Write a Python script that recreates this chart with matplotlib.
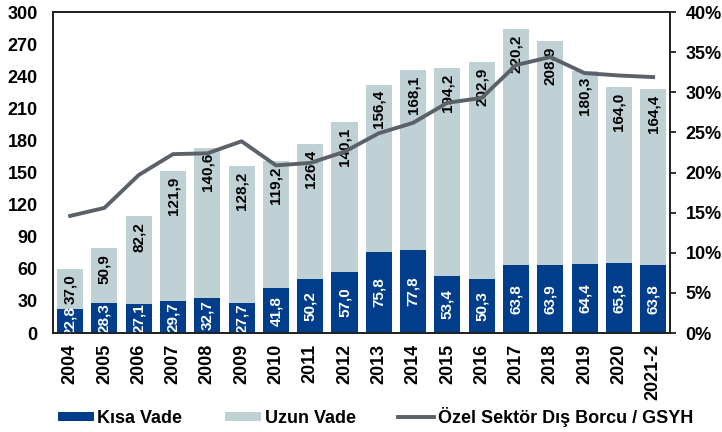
import matplotlib
matplotlib.use("Agg")
import matplotlib.pyplot as plt
import numpy as np

years = ["2004", "2005", "2006", "2007", "2008", "2009", "2010", "2011", "2012",
         "2013", "2014", "2015", "2016", "2017", "2018", "2019", "2020", "2021-2"]
kisa_vade = [22.8, 28.3, 27.1, 29.7, 32.7, 27.7, 41.8, 50.2, 57.0,
             75.8, 77.8, 53.4, 50.3, 63.8, 63.9, 64.4, 65.8, 63.8]
uzun_vade = [37.0, 50.9, 82.2, 121.9, 140.6, 128.2, 119.2, 126.4, 140.1,
             156.4, 168.1, 194.2, 202.9, 220.2, 208.9, 180.3, 164.0, 164.4]
borc_gsyh = [14.6, 15.6, 19.7, 22.3, 22.4, 23.9, 20.9, 21.2, 22.6,
             24.9, 26.2, 28.7, 29.3, 33.4, 34.4, 32.4, 32.1, 31.9]
left_ticks = [0, 30, 60, 90, 120, 150, 180, 210, 240, 270, 300]
right_ticks = [0, 5, 10, 15, 20, 25, 30, 35, 40]
right_labels = ["0%", "5%", "10%", "15%", "20%", "25%", "30%", "35%", "40%"]
legend_labels = ["Kısa Vade", "Uzun Vade", "Özel Sektör Dış Borcu / GSYH"]

plt.rcParams['font.family'] = ['Liberation Sans', 'DejaVu Sans']
plt.rcParams['font.weight'] = 'bold'

dark = "#003D8A"
light = "#C0D1D5"
linec = "#5B6169"

fig = plt.figure(figsize=(7.22, 4.32), dpi=100)
ax = fig.add_axes([0.0734, 0.229, 0.855, 0.743])
x = np.arange(len(years))
w = 0.76
b1 = ax.bar(x, kisa_vade, w, color=dark, label=legend_labels[0], zorder=2)
b2 = ax.bar(x, uzun_vade, w, bottom=kisa_vade, color=light, label=legend_labels[1], zorder=2)

fmt = lambda v: f"{v:.1f}".replace(".", ",")
for xi, k, u in zip(x, kisa_vade, uzun_vade):
    ax.text(xi, k / 2, fmt(k), rotation=90, ha='center', va='center',
            color='white', fontsize=11, fontweight='bold', zorder=4)
    ax.annotate(fmt(u), (xi, k + u), xytext=(0, -4), textcoords='offset points',
                rotation=90, ha='center', va='top', color='black',
                fontsize=11, fontweight='bold', zorder=4)

ax.set_xlim(-0.5, len(years) - 0.5)
ax.set_ylim(0, 300)
ax.set_yticks(left_ticks)
ax.set_yticklabels([str(t) for t in left_ticks], fontsize=13, fontweight='bold')
ax.tick_params(axis='y', length=0, pad=11)
ax.set_xticks(x)
ax.set_xticklabels(years, rotation=90, fontsize=13, fontweight='bold')
ax.tick_params(axis='x', length=0, pad=8)
for s in ax.spines.values():
    s.set_linewidth(1.3)
    s.set_color('#222222')

ax2 = ax.twinx()
ln, = ax2.plot(x, borc_gsyh, color=linec, lw=2.8, label=legend_labels[2], zorder=5)
ax2.set_ylim(0, 40)
ax2.set_yticks(right_ticks)
ax2.set_yticklabels(right_labels, fontsize=13, fontweight='bold')
ax2.tick_params(axis='y', direction='out', length=4, width=1.3, color='#222222', pad=7)
for s in ax2.spines.values():
    s.set_linewidth(1.3)
    s.set_color('#222222')

fig.legend([b1, b2, ln], legend_labels, loc='center left', bbox_to_anchor=(0.080, 0.035),
           ncol=3, frameon=False, handlelength=2.0, handleheight=0.45,
           handletextpad=0.2, columnspacing=2.35, borderaxespad=0, borderpad=0,
           prop={'weight': 'bold', 'size': 13})

fig.savefig("out.png", dpi=100)
